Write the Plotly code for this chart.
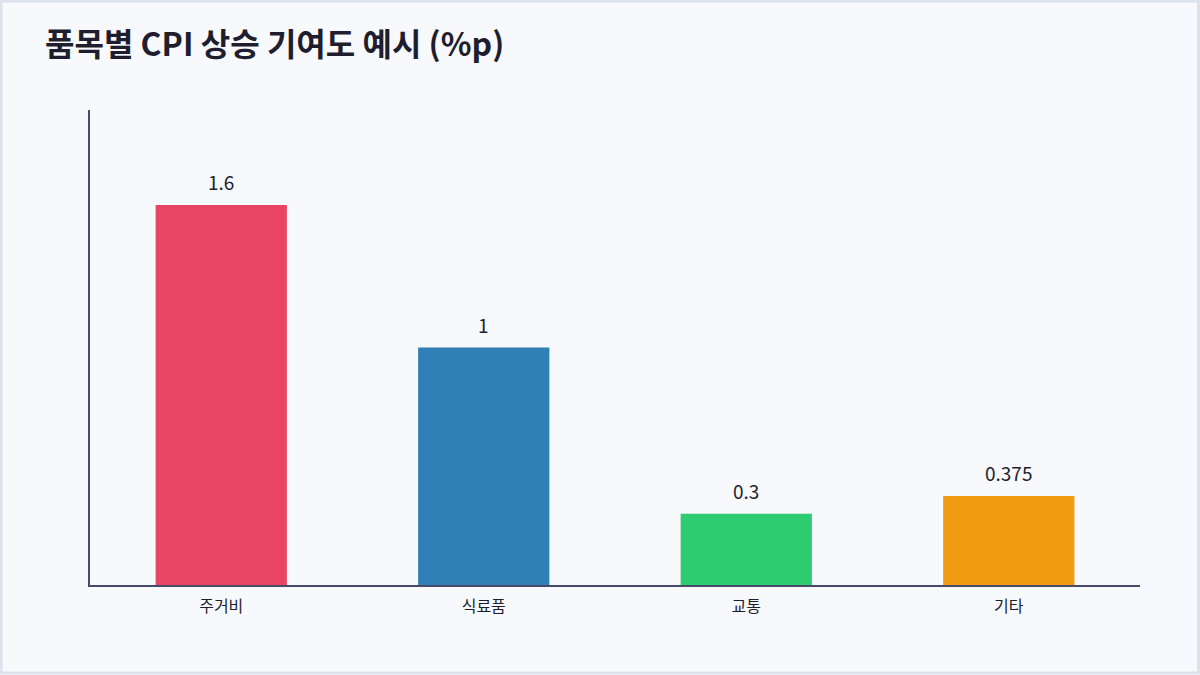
import plotly.graph_objects as go

# Data
categories = ['주거비', '식료품', '교통', '기타']
values = [1.6, 1.0, 0.3, 0.375]
value_labels = ['1.6', '1', '0.3', '0.375']
colors = ['#E84562', '#3080B8', '#2ECC71', '#F39C12']

W, H = 1200, 675
ml, mr, mt, mb = 90, 60, 110, 90

trace = go.Bar(
    x=categories, y=values,
    marker=dict(color=colors, line=dict(width=0)),
    width=0.5, hoverinfo='x+y',
)

fig = go.Figure(data=[trace])

# value labels above the bars
for cat, val, lab in zip(categories, values, value_labels):
    fig.add_annotation(x=cat, y=val, text=lab, showarrow=False, yanchor='bottom',
                       yshift=8, font=dict(size=19, color='#1E1E2E'))

# frame around the card (paper coords relative to plot area)
pw, ph = W - ml - mr, H - mt - mb
fig.add_shape(type='rect', xref='paper', yref='paper',
              x0=(1 - ml) / pw, x1=(W - 1.5 - ml) / pw,
              y0=-(mb - 2) / ph, y1=(H - mb - 1) / ph,
              line=dict(color='#DCE2EB', width=3), layer='below')

fig.update_layout(
    width=W, height=H,
    margin=dict(l=ml, r=mr, t=mt, b=mb),
    paper_bgcolor='#F7F9FD', plot_bgcolor='#F7F9FD',
    font=dict(family='Noto Sans CJK KR', color='#1E1E2E'),
    title=dict(text='<b>품목별 CPI 상승 기여도 예시 (%p)</b>', x=45 / W, xanchor='left',
               y=1 - 45 / H, yanchor='middle', font=dict(size=32, color='#1E1E2E')),
    showlegend=False,
    xaxis=dict(showline=True, linecolor='#4A4A6A', linewidth=2, showgrid=False,
               ticks='', ticklabelstandoff=6, tickfont=dict(size=16, color='#1E1E2E')),
    yaxis=dict(range=[0, 2], showline=True, linecolor='#4A4A6A', linewidth=2,
               showgrid=False, zeroline=False, showticklabels=False, ticks=''),
)

fig.write_html('out.html', config={'displayModeBar': False},
               post_script="document.body.style.margin='0';")
